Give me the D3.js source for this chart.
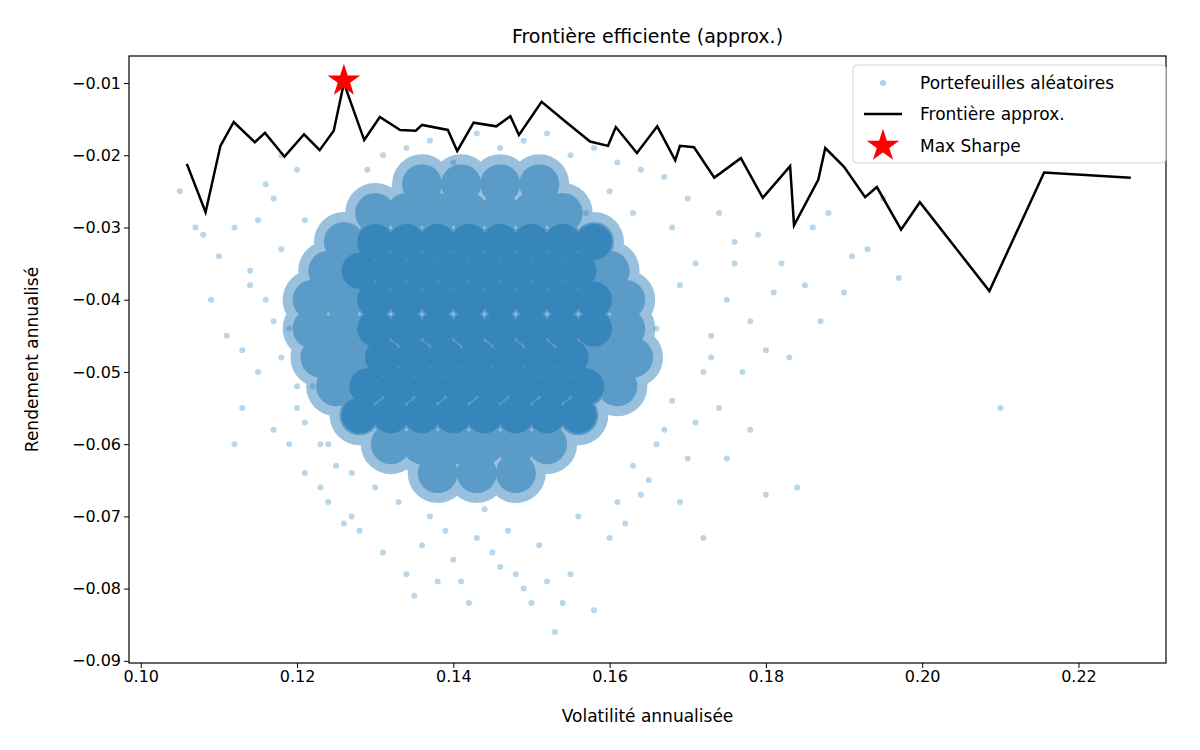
<!DOCTYPE html>
<html><head><meta charset="utf-8">
<script src="https://cdn.jsdelivr.net/npm/d3@7"></script>
<style>body{margin:0;background:#fff;font-family:"DejaVu Sans",sans-serif}</style>
</head><body><svg id="c" width="1200" height="750"></svg>
<script>
// Frontier (volatility, return)
const frontierVol=[0.1059,0.1083,0.1102,0.1119,0.1146,0.1159,0.1184,0.1209,0.1229,0.1247,0.1260,0.1286,0.1306,0.1332,0.1352,0.1360,0.1393,0.1405,0.1426,0.1455,0.1473,0.1484,0.1513,0.1543,0.1575,0.1598,0.1608,0.1635,0.1661,0.1684,0.1690,0.1708,0.1734,0.1768,0.1796,0.1831,0.1836,0.1867,0.1876,0.1900,0.1927,0.1942,0.1973,0.1997,0.2086,0.2156,0.2267];
const frontierRet=[-0.0212,-0.0279,-0.0187,-0.0154,-0.0182,-0.0169,-0.0202,-0.0171,-0.0193,-0.0166,-0.0100,-0.0179,-0.0147,-0.0165,-0.0166,-0.0158,-0.0165,-0.0194,-0.0155,-0.0160,-0.0146,-0.0172,-0.0126,-0.0153,-0.0181,-0.0187,-0.0161,-0.0197,-0.0160,-0.0207,-0.0187,-0.0189,-0.0231,-0.0204,-0.0259,-0.0215,-0.0297,-0.0234,-0.0190,-0.0216,-0.0258,-0.0244,-0.0303,-0.0265,-0.0388,-0.0224,-0.0231];
const maxSharpe=[0.1260,-0.0097];
// dense core of random portfolios (rows of return level with volatility positions)
const coreRows=[
 [-0.024,[0.136,0.141,0.146,0.151]],
 [-0.028,[0.130,0.134,0.138,0.142,0.146,0.150,0.154]],
 [-0.032,[0.126,0.130,0.134,0.138,0.142,0.146,0.150,0.154,0.158]],
 [-0.036,[0.124,0.128,0.132,0.136,0.140,0.144,0.148,0.152,0.156,0.160]],
 [-0.040,[0.122,0.126,0.130,0.134,0.138,0.142,0.146,0.150,0.154,0.158,0.162]],
 [-0.044,[0.122,0.126,0.130,0.134,0.138,0.142,0.146,0.150,0.154,0.158,0.162]],
 [-0.048,[0.123,0.127,0.131,0.135,0.139,0.143,0.147,0.151,0.155,0.159,0.163]],
 [-0.052,[0.125,0.129,0.133,0.137,0.141,0.145,0.149,0.153,0.157,0.161]],
 [-0.056,[0.128,0.132,0.136,0.140,0.144,0.148,0.152,0.156]],
 [-0.060,[0.132,0.136,0.140,0.144,0.148,0.152]],
 [-0.064,[0.138,0.143,0.148]]
];
// sparse outer portfolios
const sparseVol=[0.105,0.107,0.108,0.109,0.110,0.111,0.112,0.113,0.113,0.114,0.115,0.115,0.116,0.117,0.117,0.118,0.118,0.119,0.120,0.120,0.121,0.121,0.122,0.123,0.123,0.124,0.125,0.126,0.127,0.128,0.130,0.131,0.133,0.134,0.135,0.136,0.137,0.138,0.139,0.140,0.141,0.142,0.143,0.144,0.145,0.146,0.147,0.148,0.149,0.150,0.151,0.152,0.153,0.154,0.155,0.156,0.158,0.160,0.161,0.162,0.163,0.164,0.165,0.166,0.167,0.168,0.169,0.170,0.171,0.172,0.172,0.173,0.174,0.175,0.175,0.176,0.177,0.178,0.178,0.179,0.180,0.180,0.181,0.182,0.183,0.184,0.185,0.186,0.187,0.188,0.190,0.191,0.193,0.195,0.197,0.210,0.118,0.116,0.119,0.121,0.124,0.127,0.129,0.131,0.134,0.137,0.140,0.143,0.146,0.149,0.152,0.155,0.158,0.161,0.164,0.167,0.170,0.168,0.166,0.171,0.174,0.176,0.169,0.173,0.114,0.117,0.112,0.120,0.163,0.160,0.157];
const sparseRet=[-0.025,-0.030,-0.031,-0.040,-0.034,-0.045,-0.030,-0.047,-0.055,-0.036,-0.029,-0.050,-0.040,-0.026,-0.058,-0.033,-0.048,-0.044,-0.022,-0.055,-0.064,-0.029,-0.052,-0.060,-0.066,-0.068,-0.063,-0.071,-0.070,-0.072,-0.066,-0.075,-0.068,-0.078,-0.081,-0.074,-0.070,-0.079,-0.072,-0.076,-0.079,-0.082,-0.073,-0.069,-0.075,-0.077,-0.072,-0.078,-0.080,-0.082,-0.074,-0.079,-0.086,-0.082,-0.078,-0.070,-0.083,-0.073,-0.068,-0.071,-0.063,-0.067,-0.065,-0.060,-0.058,-0.054,-0.068,-0.062,-0.057,-0.073,-0.050,-0.045,-0.055,-0.040,-0.062,-0.035,-0.050,-0.043,-0.058,-0.031,-0.047,-0.067,-0.039,-0.035,-0.048,-0.066,-0.038,-0.030,-0.043,-0.028,-0.039,-0.034,-0.033,-0.026,-0.037,-0.055,-0.020,-0.024,-0.060,-0.057,-0.060,-0.064,-0.022,-0.020,-0.019,-0.018,-0.021,-0.017,-0.019,-0.018,-0.017,-0.020,-0.019,-0.021,-0.022,-0.023,-0.026,-0.030,-0.044,-0.035,-0.028,-0.032,-0.038,-0.048,-0.038,-0.043,-0.060,-0.052,-0.028,-0.025,-0.028];

const svg=d3.select("#c");
const L=129,R=1166,T=56,B=663;
const x=d3.scaleLinear().domain([0.0985,0.2312]).range([L,R]);
const y=d3.scaleLinear().domain([-0.0903,-0.00626]).range([B,T]);
const blue="#1f77b4";
const core=[];coreRows.forEach(([ry,xs])=>xs.forEach(vx=>core.push([vx,ry])));
// halo layer
const h=svg.append("g").attr("opacity",0.45);
h.selectAll("circle").data(core).join("circle").attr("cx",d=>x(d[0])).attr("cy",d=>y(d[1])).attr("r",30).attr("fill",blue);
const m=svg.append("g").attr("opacity",0.5);
m.selectAll("circle").data(core).join("circle").attr("cx",d=>x(d[0])).attr("cy",d=>y(d[1])).attr("r",20).attr("fill",blue);
const c2=svg.append("g").attr("opacity",0.6);
c2.selectAll("circle").data(core.filter(d=>d[0]>0.127&&d[0]<0.159&&d[1]<-0.029&&d[1]>-0.059)).join("circle").attr("cx",d=>x(d[0])).attr("cy",d=>y(d[1])).attr("r",18).attr("fill",blue);
svg.append("g").selectAll("circle").data(sparseVol).join("circle").attr("cx",d=>x(d)).attr("cy",(d,i)=>y(sparseRet[i])).attr("r",3).attr("fill",blue).attr("opacity",0.3);

svg.append("path").datum(frontierVol.map((v,i)=>[v,frontierRet[i]]))
 .attr("d",d3.line().x(d=>x(d[0])).y(d=>y(d[1]))).attr("fill","none").attr("stroke","#000").attr("stroke-width",2.5);
const star=d3.symbol().type(d3.symbolStar).size(330)();
svg.append("path").attr("d",star).attr("transform",`translate(${x(maxSharpe[0])},${y(maxSharpe[1])})`).attr("fill","red");

const xa=svg.append("g").attr("transform",`translate(0,${B})`).call(d3.axisBottom(x).tickValues([0.10,0.12,0.14,0.16,0.18,0.20,0.22]).tickFormat(d3.format(".2f")).tickSizeOuter(0).tickSize(5));
const ya=svg.append("g").attr("transform",`translate(${L},0)`).call(d3.axisLeft(y).tickValues([-0.09,-0.08,-0.07,-0.06,-0.05,-0.04,-0.03,-0.02,-0.01]).tickFormat(d=>"\u2212"+Math.abs(d).toFixed(2)).tickSizeOuter(0).tickSize(5));
[xa,ya].forEach(a=>{a.selectAll("text").attr("font-size",16).attr("fill","#000").attr("font-family","DejaVu Sans");a.select(".domain").remove();});
svg.append("rect").attr("x",L).attr("y",T).attr("width",R-L).attr("height",B-T).attr("fill","none").attr("stroke","#000").attr("stroke-width",1.2);

svg.append("text").attr("x",(L+R)/2).attr("y",43).attr("text-anchor","middle").attr("font-size",19).text("Frontière efficiente (approx.)");
svg.append("text").attr("x",(L+R)/2).attr("y",722).attr("text-anchor","middle").attr("font-size",17).text("Volatilité annualisée");
svg.append("text").attr("transform",`translate(38,${(T+B)/2}) rotate(-90)`).attr("text-anchor","middle").attr("font-size",17).text("Rendement annualisé");

const lg=svg.append("g");
lg.append("rect").attr("x",853).attr("y",65).attr("width",313).attr("height",98).attr("rx",4).attr("fill","#fff").attr("opacity",0.85).attr("stroke","#ccc");
lg.append("circle").attr("cx",883).attr("cy",83).attr("r",3).attr("fill",blue).attr("opacity",0.35);
lg.append("line").attr("x1",864).attr("x2",902).attr("y1",114).attr("y2",114).attr("stroke","#000").attr("stroke-width",2.5);
lg.append("path").attr("d",star).attr("transform","translate(883,146)").attr("fill","red");
[["Portefeuilles aléatoires",89],["Frontière approx.",120],["Max Sharpe",152]].forEach(([t,yy])=>lg.append("text").attr("x",920).attr("y",yy).attr("font-size",17).text(t));
</script></body></html>
